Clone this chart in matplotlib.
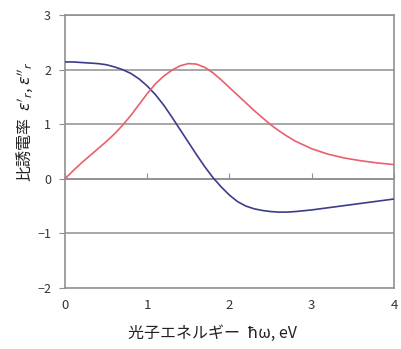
import matplotlib
matplotlib.use("Agg")
import matplotlib.pyplot as plt

plt.rcParams['font.family'] = ['Noto Sans CJK JP', 'DejaVu Sans']

# photon energy (eV)
energy = [0.0, 0.1, 0.2, 0.3, 0.4, 0.5, 0.6, 0.7, 0.8, 0.9,
          1.0, 1.1, 1.2, 1.3, 1.4, 1.5, 1.6, 1.7, 1.8, 1.9,
          2.0, 2.1, 2.2, 2.3, 2.4, 2.5, 2.6, 2.7, 2.8, 3.0,
          3.2, 3.4, 3.6, 3.8, 4.0]

# real part of relative permittivity
eps_real = [2.14, 2.14, 2.13, 2.12, 2.11, 2.09, 2.05, 2.00, 1.93, 1.83,
            1.70, 1.54, 1.35, 1.13, 0.90, 0.67, 0.44, 0.22, 0.02, -0.15,
            -0.30, -0.42, -0.50, -0.55, -0.58, -0.60, -0.61, -0.61, -0.60, -0.57,
            -0.53, -0.49, -0.45, -0.41, -0.37]

# imaginary part of relative permittivity
eps_imag = [0.00, 0.15, 0.29, 0.42, 0.55, 0.68, 0.82, 0.98, 1.16, 1.36,
            1.56, 1.74, 1.88, 1.99, 2.07, 2.11, 2.10, 2.04, 1.94, 1.81,
            1.67, 1.53, 1.39, 1.25, 1.12, 0.99, 0.88, 0.78, 0.69, 0.55,
            0.45, 0.38, 0.33, 0.29, 0.26]

x_ticks = [0, 1, 2, 3, 4]
y_ticks = [-2, -1, 0, 1, 2, 3]

fig = plt.figure(figsize=(4.02, 3.49), dpi=100)
ax = fig.add_axes([65 / 402, 1 - 288 / 349, 329 / 402, 273 / 349])

grid_c = '#a0a0a0'
for y in y_ticks:
    ax.axhline(y, color=grid_c, lw=1.3, zorder=1)

ax.plot(energy, eps_real, color='#3c3c8a', lw=1.2, zorder=3)
ax.plot(energy, eps_imag, color='#e8606c', lw=1.2, zorder=3)

ax.set_xlim(0, 4)
ax.set_ylim(-2, 3)

for s in ['left', 'right', 'top']:
    ax.spines[s].set_color('#909090')
    ax.spines[s].set_linewidth(1.2)
# x axis crosses at zero, labels stay at the bottom
ax.spines['bottom'].set_position(('data', 0))
ax.spines['bottom'].set_color('#909090')
ax.spines['bottom'].set_linewidth(1.2)
ax.set_xticks(x_ticks)
ax.tick_params(axis='x', direction='in', length=4, color='#909090',
               labelbottom=False)

ax.set_yticks(y_ticks)
ax.tick_params(axis='y', direction='out', length=4, color='#909090',
               labelsize=9, labelcolor='#333333', pad=6)

sec = ax.secondary_xaxis('bottom')
sec.set_xticks(x_ticks)
sec.tick_params(length=0, labelsize=9.5, labelcolor='#333333', pad=8)
sec.spines['bottom'].set_color('#909090')
sec.spines['bottom'].set_linewidth(1.2)

fig.text(212 / 402, 1 - 333 / 349, '光子エネルギー  ħω, eV',
         ha='center', va='center', fontsize=11.5, color='#222222')
fig.text(25 / 402, 1 - 122 / 349,
         r"比誘電率  $\varepsilon'_{r}$, $\varepsilon''_{r}$",
         ha='center', va='center', rotation=90, fontsize=11.5,
         color='#222222')

fig.savefig('out.png', dpi=100)
